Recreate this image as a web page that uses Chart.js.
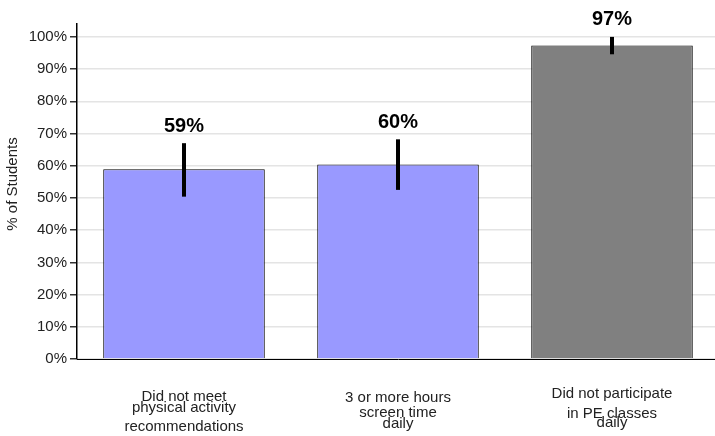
<!DOCTYPE html>
<html>
<head>
<meta charset="utf-8">
<script src="https://cdn.jsdelivr.net/npm/chart.js@4/dist/chart.umd.min.js"></script>
<style>
  html, body { margin: 0; padding: 0; background: #fff; overflow: hidden; }
  #wrap { width: 715px; height: 436px; overflow: hidden; }
</style>
</head>
<body>
<div id="wrap"><canvas id="chart" width="719" height="436"></canvas></div>
<script>
// Chart data
const categories = [
    ['Did not meet', 'physical activity', 'recommendations'],
    ['3 or more hours', 'screen time', 'daily'],
    ['Did not participate', 'in PE classes', 'daily']
];
const values = [58.9, 60.4, 97.3];
const valueLabels = ['59%', '60%', '97%'];
const errLow = [50.4, 52.5, 94.6];
const errHigh = [67.0, 68.2, 100.0];
const barColors = ['#9999ff', '#9999ff', '#808080'];
const yTicks = [0, 10, 20, 30, 40, 50, 60, 70, 80, 90, 100];
const yTitle = '% of Students';

Chart.defaults.font.family = '"Liberation Sans", Arial, sans-serif';
Chart.defaults.color = '#222';

// y offsets of each label line below the chart area (overlapping like the original)
const labelLineY = [
    [37.5, 49.0, 68.0],
    [38.5, 53.5, 64.5],
    [35.0, 54.5, 63.5]
];

const overlayPlugin = {
    id: 'overlay',
    afterDatasetsDraw(chart) {
        const ctx = chart.ctx;
        const x = chart.scales.x;
        const y = chart.scales.y;
        ctx.save();

        // error bars
        ctx.strokeStyle = '#000';
        ctx.lineWidth = 4;
        values.forEach((v, i) => {
            const px = x.getPixelForValue(i);
            ctx.beginPath();
            ctx.moveTo(px, y.getPixelForValue(errLow[i]));
            ctx.lineTo(px, y.getPixelForValue(errHigh[i]));
            ctx.stroke();
        });

        // value labels
        ctx.fillStyle = '#000';
        ctx.font = 'bold 20px "Liberation Sans", Arial, sans-serif';
        ctx.textAlign = 'center';
        ctx.textBaseline = 'middle';
        valueLabels.forEach((lbl, i) => {
            ctx.fillText(lbl, x.getPixelForValue(i), y.getPixelForValue(errHigh[i]) - 17);
        });

        // category labels
        ctx.fillStyle = '#222';
        ctx.font = '15px "Liberation Sans", Arial, sans-serif';
        categories.forEach((lines, i) => {
            lines.forEach((line, j) => {
                ctx.fillText(line, x.getPixelForValue(i), chart.chartArea.bottom + labelLineY[i][j]);
            });
        });

        // y axis title
        ctx.font = '15px "Liberation Sans", Arial, sans-serif';
        ctx.translate(13, 184);
        ctx.rotate(-Math.PI / 2);
        ctx.fillText(yTitle, 0, 0);
        ctx.restore();
    }
};

new Chart(document.getElementById('chart'), {
    type: 'bar',
    data: {
        labels: categories.map(c => c.join(' ')),
        datasets: [{
            data: values,
            backgroundColor: barColors,
            borderColor: '#000',
            borderWidth: 1,
            borderSkipped: 'bottom',
            barPercentage: 0.755,
            categoryPercentage: 1.0
        }]
    },
    options: {
        responsive: false,
        animation: false,
        layout: { padding: { top: 24, bottom: 77, left: 0, right: 0 } },
        plugins: {
            legend: { display: false },
            tooltip: { enabled: false }
        },
        scales: {
            x: {
                ticks: { display: false },
                grid: { display: false, drawTicks: false },
                border: { color: '#000', width: 1 }
            },
            y: {
                min: 0,
                max: 104,
                afterBuildTicks: (scale) => {
                    scale.ticks = yTicks.map(v => ({ value: v }));
                },
                afterFit: (scale) => { scale.width = 77; },
                ticks: {
                    font: { size: 15 },
                    color: '#222',
                    padding: 3,
                    callback: (v) => v + '%'
                },
                grid: {
                    color: '#e4e4e4',
                    lineWidth: 1.5,
                    tickLength: 7,
                    tickColor: '#333'
                },
                border: { color: '#000', width: 1.5 }
            }
        }
    },
    plugins: [overlayPlugin]
});
</script>
</body>
</html>
